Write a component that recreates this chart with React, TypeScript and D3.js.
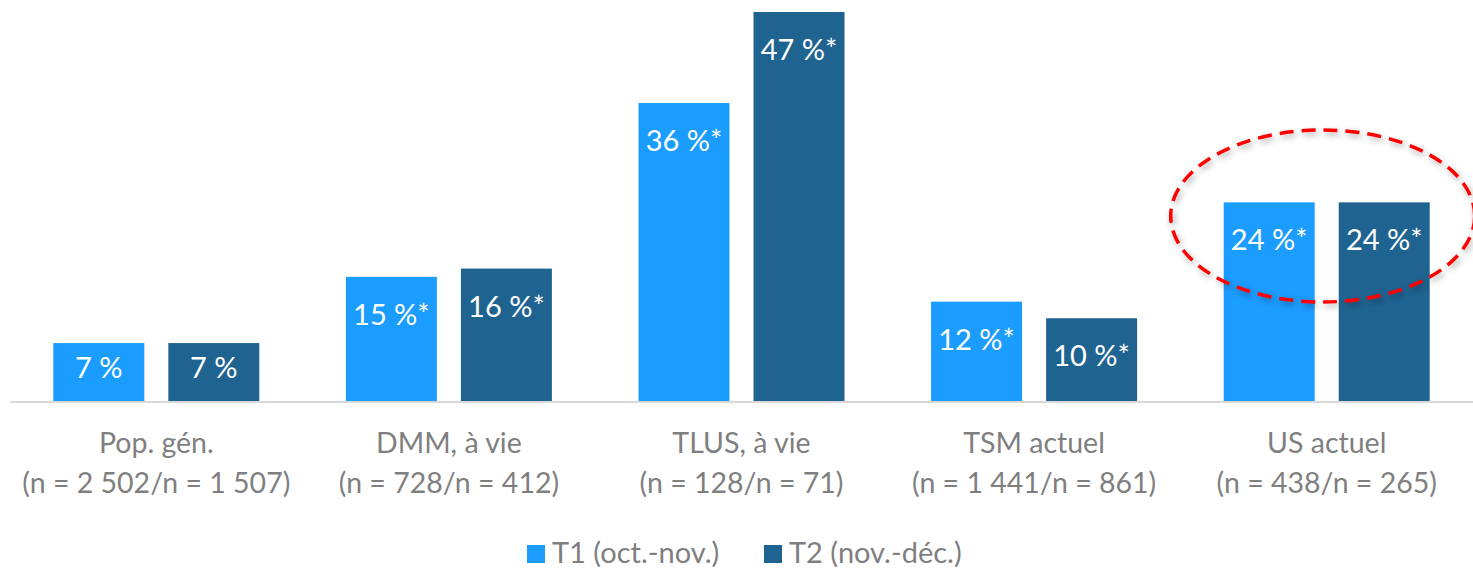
import React from 'react';
import * as d3 from 'd3';

const categories = ['Pop. gén.', 'DMM, à vie', 'TLUS, à vie', 'TSM actuel', 'US actuel'];
const sampleLabels = [
  '(n = 2 502/n = 1 507)',
  '(n = 728/n = 412)',
  '(n = 128/n = 71)',
  '(n = 1 441/n = 861)',
  '(n = 438/n = 265)',
];
const seriesKeys = ['T1', 'T2'];
const seriesNames = ['T1 (oct.-nov.)', 'T2 (nov.-déc.)'];
const t1Values = [7, 15, 36, 12, 24];
const t2Values = [7, 16, 47, 10, 24];
const t1Marks = ['', '*', '*', '*', '*'];
const t2Marks = ['', '*', '*', '*', '*'];
const colors = ['#1B9CFF', '#1F6391'];

const W = 1473;
const H = 576;
const FONT = 'Lato, "Open Sans", sans-serif';

export default function App() {
  const x0 = d3.scaleBand<string>()
    .domain(categories)
    .range([10, W])
    .paddingInner(0.296)
    .paddingOuter(0.148);

  const x1 = d3.scaleBand<string>()
    .domain(seriesKeys)
    .range([0, x0.bandwidth()])
    .paddingInner(0.209);

  const y = d3.scaleLinear().domain([0, 47]).range([401, 12]);

  const rows = categories.map((c, i) => ({
    cat: c,
    n: sampleLabels[i],
    bars: [
      { key: 'T1', v: t1Values[i], mark: t1Marks[i], color: colors[0] },
      { key: 'T2', v: t2Values[i], mark: t2Marks[i], color: colors[1] },
    ],
  }));

  const usCenter = (x0('US actuel') ?? 0) + x0.bandwidth() / 2;

  return (
    <svg
      width={W}
      height={H}
      style={{ position: 'absolute', left: 0, top: 0, display: 'block', background: '#fff' }}
      fontFamily={FONT}
    >
      <defs>
        <filter id="shadow" x="-20%" y="-20%" width="140%" height="140%">
          <feGaussianBlur in="SourceAlpha" stdDeviation="3" />
          <feOffset dx="2" dy="3" result="blur" />
          <feFlood floodColor="#000" floodOpacity="0.35" />
          <feComposite in2="blur" operator="in" result="sh" />
          <feMerge>
            <feMergeNode in="sh" />
            <feMergeNode in="SourceGraphic" />
          </feMerge>
        </filter>
      </defs>

      {rows.map((r) => (
        <g key={r.cat} transform={`translate(${x0(r.cat)},0)`}>
          {r.bars.map((b) => {
            const bx = x1(b.key) ?? 0;
            const top = y(b.v);
            const base = y(0);
            const ty = Math.min(top + 48, base - 23);
            return (
              <g key={b.key}>
                <rect x={bx} y={top} width={x1.bandwidth()} height={base - top} fill={b.color} />
                <text
                  x={bx + x1.bandwidth() / 2}
                  y={ty}
                  textAnchor="middle"
                  fill="#fff"
                  fontSize={29}
                >
                  {`${b.v} %${b.mark}`}
                </text>
              </g>
            );
          })}
          <text x={x0.bandwidth() / 2} y={453} textAnchor="middle" fill="#7f7f7f" fontSize={28.5}>
            {r.cat}
          </text>
          <text x={x0.bandwidth() / 2} y={493} textAnchor="middle" fill="#7f7f7f" fontSize={28.5}>
            {r.n}
          </text>
        </g>
      ))}

      <line x1={10} x2={W} y1={y(0) + 1} y2={y(0) + 1} stroke="#d9d9d9" strokeWidth={2} />

      <ellipse
        cx={usCenter - 4}
        cy={216}
        rx={152}
        ry={86}
        fill="none"
        stroke="#FF0000"
        strokeWidth={3.5}
        strokeDasharray="14 8"
        filter="url(#shadow)"
      />

      <g transform="translate(527,545)">
        {seriesNames.map((s, i) => (
          <g key={s} transform={`translate(${i * 237},0)`}>
            <rect x={0} y={0} width={18} height={18} fill={colors[i]} />
            <text x={25} y={18} fill="#7f7f7f" fontSize={29}>
              {s}
            </text>
          </g>
        ))}
      </g>
    </svg>
  );
}
